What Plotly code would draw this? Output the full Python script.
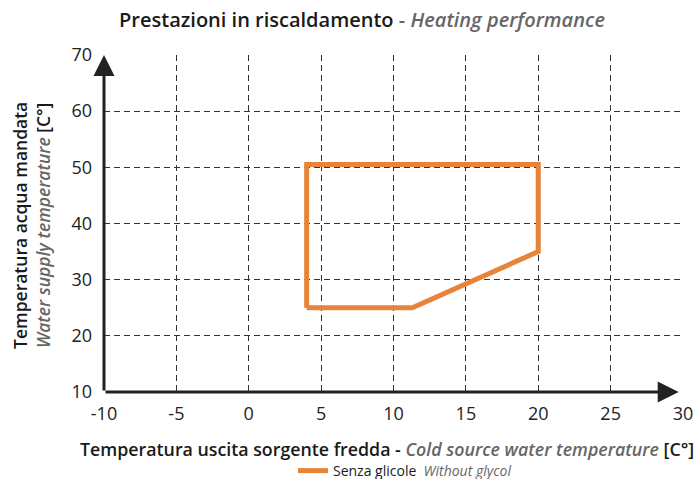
import plotly.graph_objects as go

# Data: operating envelope (heating)
env_x = [4, 11.3, 20, 20, 4, 4]
env_y = [25, 25, 35, 50.5, 50.5, 25]

x_ticks = [-10, -5, 0, 5, 10, 15, 20, 25, 30]
x_ticktext = ["-10", "-5", "0", "5", "10", "15", "20", "25", "30"]
y_ticks = [10, 20, 30, 40, 50, 60, 70]
y_ticktext = ["10", "20", "30", "40", "50", "60", "70"]

ORANGE = "#E8833A"
DARK = "#1a1a1a"
GRAY = "#666666"
FONT = "Open Sans"
W, H = 698, 479

fig = go.Figure()
fig.add_trace(go.Scatter(
    x=env_x, y=env_y, mode="lines",
    line=dict(color=ORANGE, width=5),
    name=f"Senza glicole  <i><span style='color:{GRAY}'>Without glycol</span></i>",
    showlegend=True,
))

axis_common = dict(
    showgrid=True, gridcolor="#333333", gridwidth=1, griddash="6px,4px",
    zeroline=False, showline=False, ticks="", automargin=False,
    tickfont=dict(family=FONT, size=18, color="#222222"),
)

fig.update_layout(
    width=W, height=H,
    paper_bgcolor="white", plot_bgcolor="white",
    margin=dict(l=104, r=15, t=55, b=87, autoexpand=False),
    font=dict(family=FONT, color=DARK),
    title=dict(
        text=f"Prestazioni in riscaldamento <span style='color:{GRAY}'>- <i>Heating performance</i></span>",
        x=362 / W, xanchor="center", y=1 - 20 / H, yanchor="middle",
        font=dict(family=FONT, size=20, color=DARK, weight=600),
    ),
    xaxis=dict(range=[-10, 30], tickvals=x_ticks, ticktext=x_ticktext,
               ticklabelstandoff=9, **axis_common),
    yaxis=dict(range=[10, 70], tickvals=y_ticks, ticktext=y_ticktext,
               ticklabelstandoff=11, **axis_common),
    legend=dict(
        orientation="h", xref="container", yref="container",
        x=405 / W, xanchor="center", y=(H - 471) / H, yanchor="middle",
        font=dict(family=FONT, size=14, color=DARK),
        bgcolor="rgba(0,0,0,0)", itemwidth=30,
    ),
)

# Axis titles
fig.add_annotation(
    text=f"Temperatura uscita sorgente fredda - <i><span style='color:{GRAY}'>Cold source water temperature</span></i> [C°]",
    xref="paper", yref="paper", x=(387 - 104) / 579, y=-(449 - 392) / 337,
    xanchor="center", yanchor="middle", showarrow=False,
    font=dict(family=FONT, size=17.8, color=DARK, weight=600),
)
fig.add_annotation(
    text=f"Temperatura acqua mandata<br><i><span style='color:{GRAY}'>Water supply temperature</span></i> [C°]",
    xref="paper", yref="paper", x=-(104 - 31) / 579, y=(392 - 226) / 337,
    xanchor="center", yanchor="middle", showarrow=False, textangle=-90,
    font=dict(family=FONT, size=17.5, color=DARK, weight=600),
)

# Axis arrows
fig.add_annotation(x=29.7, y=10, ax=-10, ay=10, xref="x", yref="y", axref="x", ayref="y",
                   showarrow=True, arrowhead=2, arrowsize=1.4, arrowwidth=3, arrowcolor="#222222", text="")
fig.add_annotation(x=-10, y=70, ax=-10, ay=10, xref="x", yref="y", axref="x", ayref="y",
                   showarrow=True, arrowhead=2, arrowsize=1.4, arrowwidth=3, arrowcolor="#222222", text="")

fig.write_html("out.html", config={"displayModeBar": False},
               post_script="document.body.style.margin='0';")
